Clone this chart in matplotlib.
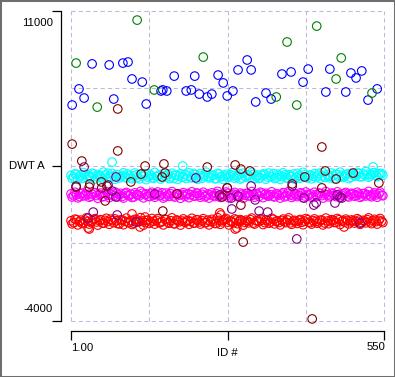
import numpy as np
import matplotlib
matplotlib.use('Agg')
import matplotlib.pyplot as plt
from matplotlib.patches import Rectangle

plt.rcParams['font.family'] = ['Liberation Sans', 'DejaVu Sans']

# dense bands, read as two interleaved passes (every 5th ID, offset by 2)
band_ids = np.arange(1, 551, 5)
band_ids2 = np.arange(3, 551, 5)

cyan_vals = [
    3050, 2960, 3100, 2990, 2900, 3080, 3010, 2940, 3120, 2980,
    3030, 2890, 3060, 3150, 2950, 3000, 3090, 2920, 3040, 2970,
    3110, 2930, 3020, 3070, 2880, 3000, 3130, 2960, 3050, 2910,
    2990, 3080, 2940, 3030, 3100, 2970, 2900, 3060, 3010, 2950,
    3090, 3020, 2930, 3140, 2980, 3040, 2910, 3070, 3000, 2960,
    3050, 2890, 3110, 2990, 3020, 2940, 3080, 3030, 2970, 3120,
    2920, 3010, 3060, 2950, 3100, 2980, 2900, 3040, 3090, 2960,
    3000, 3130, 2930, 3050, 2990, 3070, 2910, 3020, 3110, 2950,
    3040, 2980, 3080, 2920, 3060, 3000, 2940, 3150, 3010, 2970,
    3090, 2930, 3030, 3100, 2960, 3050, 2990, 3120, 2950, 3070,
    3010, 3140, 2980, 3060, 3100, 3020, 3170, 3050, 3090, 3130]
cyan_vals2 = [
    2900, 3120, 2850, 3060, 3180, 2940, 3030, 3150, 2870, 3090,
    2960, 3200, 2910, 3010, 3140, 2860, 3070, 2990, 3170, 2920,
    3040, 2880, 3160, 2950, 3100, 3020, 2840, 3110, 2930, 3190,
    3000, 2870, 3130, 2960, 2890, 3150, 3050, 2850, 3120, 2980,
    2900, 3170, 2940, 3080, 2860, 3130, 2990, 3200, 2920, 3060,
    2880, 3140, 2970, 2850, 3100, 3010, 3180, 2910, 3050, 2870,
    3150, 2950, 3030, 3190, 2890, 3070, 2940, 3120, 2860, 3160,
    2980, 2900, 3110, 2850, 3170, 2930, 3080, 2990, 2870, 3140,
    2910, 3190, 2960, 3050, 2880, 3130, 3020, 2900, 3180, 2940,
    3010, 3160, 2870, 3090, 3200, 2950, 3070, 2890, 3150, 3040,
    3190, 2980, 3120, 3230, 2960, 3100, 3180, 2990, 3140, 3060]

magenta_vals = [
    2150, 2060, 2110, 2020, 2180, 2090, 2130, 2040, 2200, 2070,
    2120, 2010, 2160, 2080, 2140, 2050, 2190, 2100, 2030, 2170,
    2090, 2140, 2000, 2110, 2060, 2180, 2120, 2040, 2150, 2080,
    2130, 2070, 2200, 2020, 2100, 2160, 2050, 2140, 2090, 2120,
    2030, 2170, 2110, 2060, 2190, 2080, 2130, 2010, 2150, 2100,
    2070, 2160, 2040, 2120, 2090, 2180, 2050, 2140, 2110, 2020,
    2130, 2080, 2170, 2060, 2100, 2150, 2030, 2190, 2120, 2070,
    2110, 2040, 2160, 2090, 2140, 2010, 2180, 2100, 2060, 2130,
    2080, 2170, 2050, 2120, 2150, 2030, 2110, 2190, 2070, 2140,
    2100, 2060, 2160, 2020, 2130, 2090, 2180, 2050, 2120, 2150,
    2080, 2140, 2040, 2170, 2110, 2060, 2130, 2100, 2160, 2090]
magenta_vals2 = [
    2000, 2230, 1960, 2170, 2050, 2260, 1990, 2140, 2210, 1940,
    2190, 2030, 2250, 1970, 2120, 2240, 2010, 2180, 1950, 2220,
    2060, 1980, 2200, 2110, 2270, 1960, 2150, 2020, 2230, 1990,
    2240, 2070, 1950, 2190, 2030, 2260, 2000, 2160, 1940, 2210,
    2120, 1970, 2250, 2040, 2180, 1990, 2230, 2060, 1950, 2200,
    2020, 2270, 1980, 2150, 2240, 1960, 2100, 2220, 2010, 2190,
    1940, 2170, 2050, 2260, 1990, 2130, 2230, 1970, 2180, 2040,
    2250, 2000, 2140, 1950, 2210, 2060, 2270, 1980, 2160, 2020,
    2200, 1960, 2240, 2080, 1990, 2230, 2030, 2170, 1950, 2260,
    2010, 2190, 2070, 2250, 1970, 2150, 2220, 2000, 2180, 2040,
    2230, 1980, 2160, 2050, 2270, 2010, 2200, 1990, 2240, 2060]

red_vals = [
    850, 760, 900, 800, 720, 880, 820, 770, 910, 790,
    840, 740, 870, 810, 930, 760, 850, 700, 890, 820,
    780, 860, 730, 900, 810, 840, 760, 880, 790, 830,
    870, 750, 820, 910, 780, 850, 710, 890, 800, 840,
    770, 860, 820, 740, 900, 790, 850, 760, 880, 810,
    830, 720, 870, 800, 910, 780, 840, 750, 890, 820,
    860, 770, 830, 900, 740, 850, 810, 880, 760, 840,
    790, 920, 820, 770, 860, 800, 890, 750, 840, 810,
    870, 780, 830, 900, 760, 850, 820, 790, 880, 740,
    840, 810, 870, 770, 900, 830, 780, 860, 800, 850,
    820, 880, 760, 840, 900, 790, 850, 810, 870, 830]
red_vals2 = [
    700, 930, 650, 880, 760, 990, 690, 840, 950, 640,
    900, 730, 970, 680, 860, 940, 710, 890, 660, 980,
    750, 670, 920, 800, 1000, 640, 870, 720, 960, 690,
    950, 770, 650, 910, 730, 990, 700, 860, 640, 940,
    830, 680, 970, 740, 890, 690, 950, 760, 650, 920,
    720, 1000, 680, 870, 960, 650, 800, 940, 710, 900,
    640, 880, 750, 980, 690, 840, 950, 670, 890, 730,
    970, 700, 850, 650, 930, 760, 990, 680, 870, 720,
    910, 660, 960, 780, 690, 940, 730, 880, 650, 980,
    710, 900, 770, 960, 670, 860, 930, 700, 890, 740,
    950, 680, 870, 750, 990, 710, 920, 690, 960, 760]

# stragglers off the bands
cyan_extra_ids = [73, 197, 531]
cyan_extra_vals = [3690, 3500, 3450]
red_extra_ids = [31, 33, 108, 122, 131, 262, 264, 289, 292, 480]
red_extra_vals = [500, 450, 1180, 550, 1030, 1230, 1130, 450, 500, 550]

# sparse series
blue_ids = [3, 15, 24, 38, 68, 76, 92, 101, 108, 126, 133, 159, 162, 169, 182,
            203, 212, 218, 226, 240, 248, 259, 268, 275, 285, 294, 310, 317,
            325, 343, 352, 371, 387, 408, 417, 448, 455, 483, 492, 501, 511,
            522, 538]
blue_vals = [6450, 7230, 6790, 8440, 8390, 6740, 8480, 8530, 7710, 7560, 6500,
             7130, 7180, 7130, 7850, 7130, 7180, 7850, 6980, 6840, 6980, 7900,
             7520, 6890, 7130, 8150, 8630, 8150, 6600, 7030, 6740, 7950, 8050,
             7560, 8190, 7080, 8190, 7080, 8000, 7760, 8100, 6690, 7230]

green_ids = [10, 47, 117, 147, 233, 361, 380, 397, 432, 466, 475, 529]
green_vals = [8480, 6350, 10560, 7180, 8770, 6840, 9500, 6450, 10270, 7710,
              8730, 7030]

maroon_ids = [3, 20, 83, 83, 131, 164, 240, 289, 299, 315, 441, 10, 33, 34,
              54, 55, 61, 64, 106, 124, 161, 166, 162, 187, 266, 275, 299,
              303, 389, 411, 441, 447, 466, 496, 541, 424]
maroon_vals = [4560, 3740, 6260, 4230, 3500, 3600, 3450, 3550, 3350, 3260,
               4420, 2480, 2480, 2630, 2730, 2440, 1810, 2530, 2730, 3110,
               2970, 3160, 1320, 2150, 2000, 2440, 1610, -180, 2630, 2970,
               2440, 3260, 2870, 3160, 2680, -3900]

purple_ids = [10, 24, 31, 40, 66, 73, 80, 80, 82, 115, 148, 220, 262, 275, 282,
              283, 294, 317, 324, 331, 346, 389, 397, 410, 427, 431, 464, 468,
              473, 476, 508]
purple_vals = [2530, 3450, 980, 1270, 2580, 2290, 2970, 2000, 1130, 790, 2150,
               2920, 2100, 2440, 1950, 1420, 2050, 2530, 1860, 1320, 1270, 2530,
               -30, 1950, 1610, 1710, 1710, 2100, 2000, 1950, 740]

y_lo, y_hi = -4000, 11000
x_lo, x_hi = 1, 550

W, H = 395, 377
fig = plt.figure(figsize=(W / 100, H / 100), dpi=100)
ax = fig.add_axes([71 / W, (H - 321) / H, 313 / W, 310 / H])
ax.set_xlim(x_lo, x_hi)
ax.set_ylim(y_lo, y_hi)

# dashed grid, including the box edges
grid_c = '#bdb8dc'
for gx in np.linspace(x_lo, x_hi, 5):
    ax.axvline(gx, color=grid_c, lw=0.75, ls=(0, (4, 3)), clip_on=False, zorder=0)
for gy in np.linspace(y_lo, y_hi, 5):
    ax.axhline(gy, color=grid_c, lw=0.75, ls=(0, (4, 3)), clip_on=False, zorder=0)

kw = dict(s=38, facecolors='none', linewidths=0.8, clip_on=False)
ax.scatter(band_ids, red_vals, edgecolors='#ff0000', **kw)
ax.scatter(band_ids2, red_vals2, edgecolors='#ff0000', **kw)
ax.scatter(red_extra_ids, red_extra_vals, edgecolors='#ff0000', **kw)
ax.scatter(band_ids, magenta_vals, edgecolors='#ff00ff', **kw)
ax.scatter(band_ids2, magenta_vals2, edgecolors='#ff00ff', **kw)
ax.scatter(band_ids, cyan_vals, edgecolors='#00ffff', **kw)
ax.scatter(band_ids2, cyan_vals2, edgecolors='#00ffff', **kw)
ax.scatter(cyan_extra_ids, cyan_extra_vals, edgecolors='#00ffff', **kw)
ax.scatter(purple_ids, purple_vals, edgecolors='#800080', **kw)
ax.scatter(maroon_ids, maroon_vals, edgecolors='#800000', **kw)
ax.scatter(blue_ids, blue_vals, edgecolors='#0000ff', **kw)
ax.scatter(green_ids, green_vals, edgecolors='#008000', **kw)

# axes: detached spines
for s in ['top', 'right']:
    ax.spines[s].set_visible(False)
ax.spines['left'].set_position(('outward', 7.2))
ax.spines['bottom'].set_position(('outward', 7.2))
ax.spines['left'].set_linewidth(0.9)
ax.spines['bottom'].set_linewidth(0.9)
ax.set_yticks([y_lo, 3500, y_hi])
ax.set_xticks([x_lo, 275.5, x_hi])
ax.tick_params(length=6.5, width=0.9, direction='out', labelleft=False,
               labelbottom=False)

tfs = 8.2
fig.text(53 / W, 1 - 23 / H, '11000', ha='right', va='center', fontsize=tfs)
fig.text(45 / W, 1 - 166 / H, 'DWT A', ha='right', va='center', fontsize=tfs)
fig.text(53 / W, 1 - 309 / H, '-4000', ha='right', va='center', fontsize=tfs)
fig.text(71 / W, 1 - 348 / H, '1.00', ha='left', va='center', fontsize=tfs)
fig.text(227 / W, 1 - 353 / H, 'ID #', ha='center', va='center', fontsize=tfs)
fig.text(385 / W, 1 - 347 / H, '550', ha='right', va='center', fontsize=tfs)

fig.patches.append(Rectangle((0, 0), 1, 1, transform=fig.transFigure,
                             fill=False, edgecolor='#6e6e6e', lw=2.2))

fig.savefig('out.png', dpi=100, facecolor='white')
